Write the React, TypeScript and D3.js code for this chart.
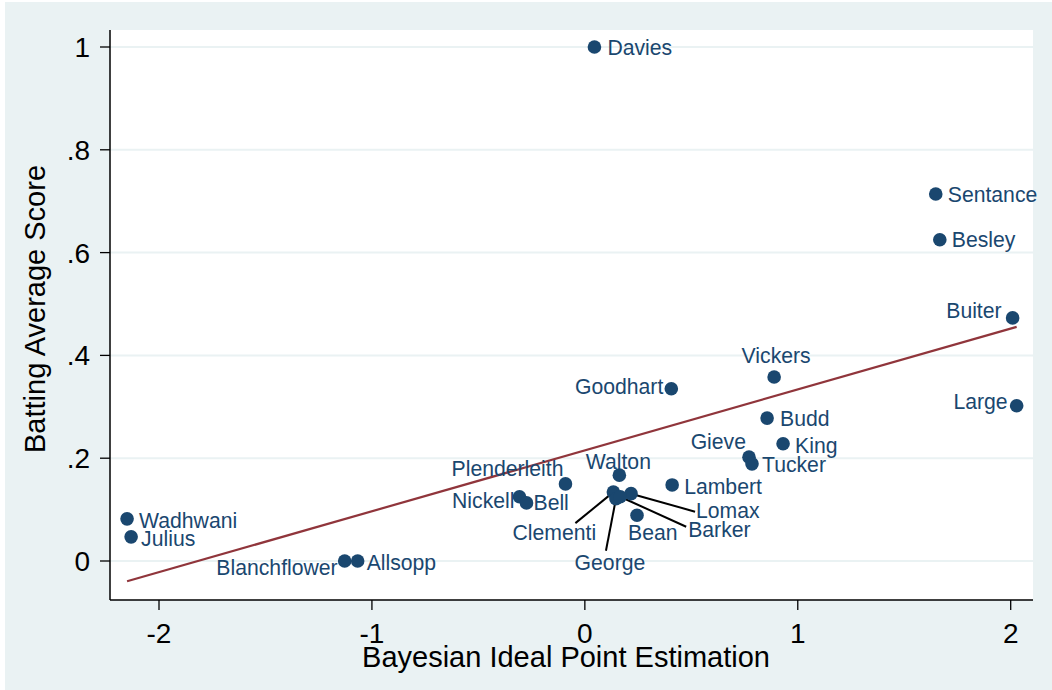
import React from "react";
import * as d3 from "d3";

// ---- data ----
const names = [
  "Davies", "Sentance", "Besley", "Buiter", "Large", "Vickers", "Goodhart",
  "Budd", "King", "Gieve", "Tucker", "Walton", "Lambert", "Plenderleith",
  "Nickell", "Bell", "Clementi", "George", "Lomax", "Barker", "Bean",
  "Wadhwani", "Julius", "Blanchflower", "Allsopp",
];
const idealPoint = [
  0.045, 1.648, 1.667, 2.009, 2.028, 0.889, 0.406,
  0.856, 0.931, 0.771, 0.785, 0.162, 0.41, -0.091,
  -0.307, -0.274, 0.134, 0.146, 0.217, 0.166, 0.245,
  -2.15, -2.131, -1.128, -1.067,
];
const battingScore = [
  1.0, 0.714, 0.625, 0.473, 0.302, 0.358, 0.335,
  0.278, 0.228, 0.202, 0.189, 0.167, 0.148, 0.15,
  0.125, 0.113, 0.134, 0.121, 0.131, 0.125, 0.089,
  0.082, 0.047, 0.0, 0.0,
];
const xTicks = [-2, -1, 0, 1, 2];
const yTicks = [0, 0.2, 0.4, 0.6, 0.8, 1];
const xTitle = "Bayesian Ideal Point Estimation";
const yTitle = "Batting Average Score";

// ---- label layout (pixel offsets from marker; leader = connector end) ----
type Lay = { dx: number; dy: number; anchor: "start" | "end" | "middle"; leader?: [number, number] };
const labelLayout: Record<string, Lay> = {
  Davies: { dx: 13, dy: 0, anchor: "start" },
  Sentance: { dx: 12, dy: 0, anchor: "start" },
  Besley: { dx: 12, dy: 0, anchor: "start" },
  Buiter: { dx: -11, dy: -7, anchor: "end" },
  Large: { dx: -9, dy: -4, anchor: "end" },
  Vickers: { dx: 2, dy: -21, anchor: "middle" },
  Goodhart: { dx: -8, dy: -2, anchor: "end" },
  Budd: { dx: 13, dy: 0, anchor: "start" },
  King: { dx: 12, dy: 2, anchor: "start" },
  Gieve: { dx: -3, dy: -16, anchor: "end" },
  Tucker: { dx: 10, dy: 1, anchor: "start" },
  Walton: { dx: -1, dy: -14, anchor: "middle" },
  Lambert: { dx: 12, dy: 2, anchor: "start" },
  Plenderleith: { dx: -2, dy: -15, anchor: "end" },
  Nickell: { dx: -5, dy: 4, anchor: "end" },
  Bell: { dx: 7, dy: 0, anchor: "start" },
  Clementi: { dx: -59, dy: 40, anchor: "middle", leader: [-38, 31] },
  George: { dx: -6, dy: 64, anchor: "middle", leader: [-10, 52] },
  Lomax: { dx: 65, dy: 17, anchor: "start", leader: [64, 18] },
  Barker: { dx: 68, dy: 33, anchor: "start", leader: [66, 30] },
  Bean: { dx: -9, dy: 17, anchor: "start" },
  Wadhwani: { dx: 12, dy: 2, anchor: "start" },
  Julius: { dx: 10, dy: 2, anchor: "start" },
  Blanchflower: { dx: -7, dy: 6, anchor: "end" },
  Allsopp: { dx: 9, dy: 1, anchor: "start" },
};

const W = 1052;
const H = 690;
const plot = { left: 110, right: 1033, top: 30, bottom: 600 };
const FONT = "'Liberation Sans', Arial, Helvetica, sans-serif";
const NAVY = "#1a476f";
const MAROON = "#90353b";
const BG = "#eaf2f3";

export default function App() {
  const x = d3.scaleLinear().domain([-2, 2]).range([159, 1010.7]);
  const y = d3.scaleLinear().domain([0, 1]).range([561, 47]);

  // OLS linear fit (lfit)
  const n = idealPoint.length;
  const mx = d3.mean(idealPoint) as number;
  const my = d3.mean(battingScore) as number;
  let sxy = 0, sxx = 0;
  for (let i = 0; i < n; i++) {
    sxy += (idealPoint[i] - mx) * (battingScore[i] - my);
    sxx += (idealPoint[i] - mx) ** 2;
  }
  const b = sxy / sxx;
  const a = my - b * mx;
  const [xmin, xmax] = d3.extent(idealPoint) as [number, number];
  const fitPts: [number, number][] = [
    [xmin, a + b * xmin],
    [xmax, a + b * xmax],
  ];
  const line = d3.line<[number, number]>().x((d) => x(d[0])).y((d) => y(d[1]));

  const fmtY = (v: number) => (v === 0 ? "0" : v === 1 ? "1" : d3.format(".1f")(v).replace(/^0/, ""));

  return (
    <div style={{ position: "absolute", left: 0, top: 0 }}>
      <svg width={W} height={H} style={{ display: "block" }} fontFamily={FONT}>
        <rect x={0} y={0} width={W} height={H} fill="#ffffff" />
        <rect x={5} y={2} width={W - 5} height={H - 2} fill={BG} />
        <rect
          x={plot.left}
          y={plot.top}
          width={plot.right - plot.left}
          height={plot.bottom - plot.top}
          fill="#ffffff"
        />
        {/* grid */}
        {yTicks.map((t) => (
          <line
            key={"g" + t}
            x1={plot.left}
            x2={plot.right}
            y1={y(t)}
            y2={y(t)}
            stroke={BG}
            strokeWidth={2}
          />
        ))}
        {/* fit line */}
        <path d={line(fitPts) || ""} fill="none" stroke={MAROON} strokeWidth={2.2} />
        {/* leaders */}
        {names.map((nm, i) => {
          const L = labelLayout[nm];
          if (!L || !L.leader) return null;
          return (
            <line
              key={"l" + nm}
              x1={x(idealPoint[i])}
              y1={y(battingScore[i])}
              x2={x(idealPoint[i]) + L.leader[0]}
              y2={y(battingScore[i]) + L.leader[1]}
              stroke="#000"
              strokeWidth={2}
            />
          );
        })}
        {/* markers */}
        {names.map((nm, i) => (
          <circle key={"c" + nm} cx={x(idealPoint[i])} cy={y(battingScore[i])} r={6.8} fill={NAVY} />
        ))}
        {/* labels */}
        {names.map((nm, i) => {
          const L = labelLayout[nm];
          return (
            <text
              key={"t" + nm}
              x={x(idealPoint[i]) + L.dx}
              y={y(battingScore[i]) + L.dy}
              textAnchor={L.anchor}
              dominantBaseline="central"
              fontSize={21.2}
              fill={NAVY}
            >
              {nm}
            </text>
          );
        })}
        {/* axes */}
        <line x1={plot.left} x2={plot.left} y1={plot.top} y2={plot.bottom} stroke="#000" strokeWidth={1.5} />
        <line x1={plot.left} x2={plot.right} y1={plot.bottom} y2={plot.bottom} stroke="#000" strokeWidth={1.5} />
        {yTicks.map((t) => (
          <g key={"yt" + t}>
            <line x1={plot.left - 10} x2={plot.left} y1={y(t)} y2={y(t)} stroke="#000" strokeWidth={1.3} />
            <text x={90} y={y(t) + 10} textAnchor="end" fontSize={28} fill="#000">
              {fmtY(t)}
            </text>
          </g>
        ))}
        {xTicks.map((t) => (
          <g key={"xt" + t}>
            <line x1={x(t)} x2={x(t)} y1={plot.bottom} y2={plot.bottom + 10} stroke="#000" strokeWidth={1.3} />
            <text x={x(t)} y={643} textAnchor="middle" fontSize={28} fill="#000">
              {t}
            </text>
          </g>
        ))}
        <text x={566} y={667} textAnchor="middle" fontSize={29} fill="#000">
          {xTitle}
        </text>
        <text
          transform={`translate(45,309) rotate(-90)`}
          textAnchor="middle"
          fontSize={29}
          fill="#000"
        >
          {yTitle}
        </text>
      </svg>
    </div>
  );
}
